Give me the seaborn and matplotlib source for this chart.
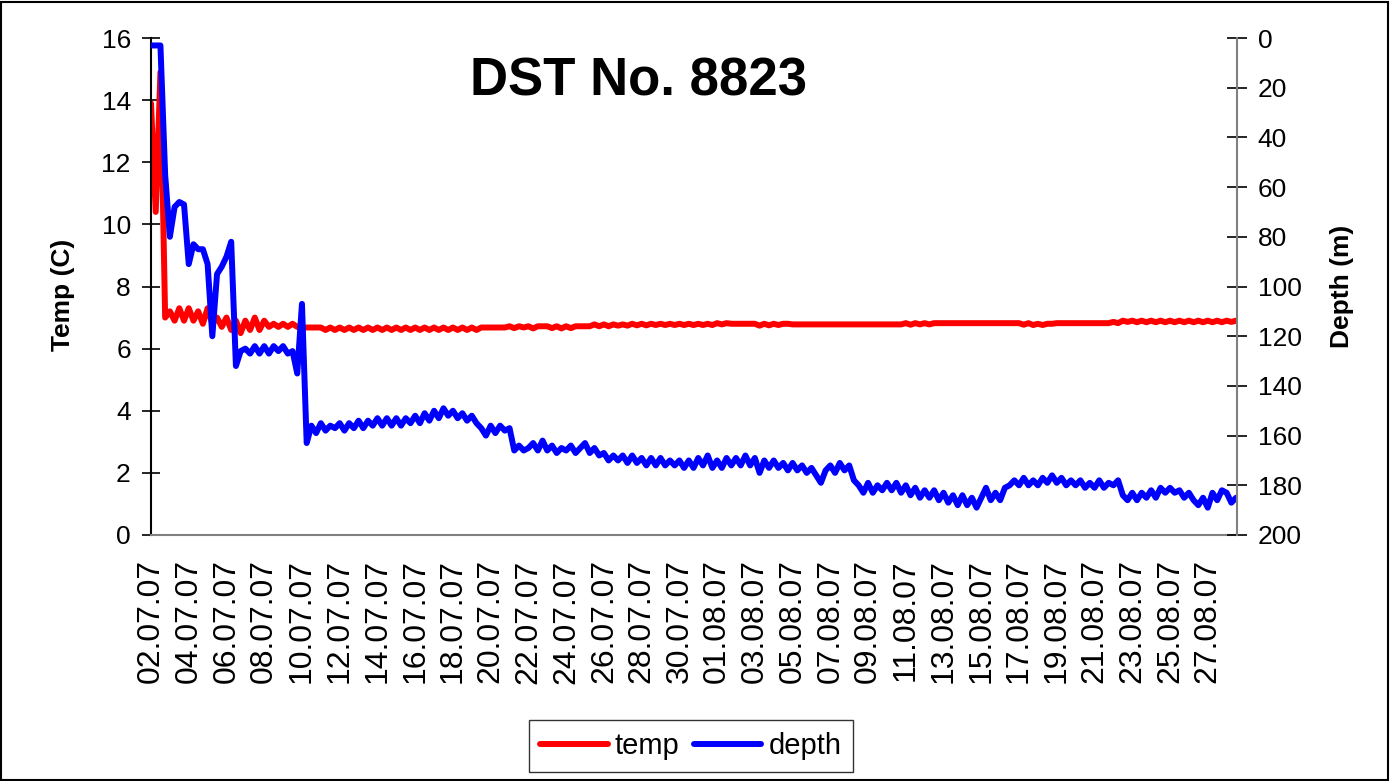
import pandas as pd
import matplotlib.pyplot as plt
from matplotlib.lines import Line2D
from matplotlib.patches import Rectangle
import seaborn as sns

# readings every 6 hours, starting 02.07.07 00:00
start_date = '2007-07-02'
step = '6h'

temp = [
    13.9, 10.4, 14.9, 7.0,   7.2, 6.9, 7.3, 6.9,   7.3, 6.9, 7.2, 6.8,   7.3, 6.8, 7.0, 6.7,
    7.0, 6.6, 6.9, 6.5,   6.9, 6.6, 7.0, 6.6,   6.9, 6.7, 6.8, 6.7,   6.8, 6.7, 6.8, 6.7,
    6.68, 6.68, 6.68, 6.68,   6.68, 6.6, 6.68, 6.6,   6.68, 6.6, 6.68, 6.6,   6.68, 6.6, 6.68, 6.6,
    6.68, 6.6, 6.68, 6.6,   6.68, 6.6, 6.68, 6.6,   6.68, 6.6, 6.68, 6.6,   6.68, 6.6, 6.68, 6.6,
    6.68, 6.6, 6.68, 6.6,   6.68, 6.6, 6.68, 6.68,   6.68, 6.68, 6.68, 6.68,   6.72, 6.66, 6.72, 6.68,
    6.72, 6.65, 6.72, 6.72,   6.72, 6.66, 6.72, 6.65,   6.72, 6.66, 6.72, 6.72,   6.72, 6.72, 6.78, 6.72,
    6.78, 6.72, 6.78, 6.74,   6.78, 6.74, 6.8, 6.75,   6.8, 6.75, 6.8, 6.76,   6.8, 6.76, 6.8, 6.76,
    6.8, 6.76, 6.8, 6.76,   6.8, 6.76, 6.8, 6.76,   6.82, 6.78, 6.82, 6.8,   6.8, 6.8, 6.8, 6.8,
    6.8, 6.74, 6.8, 6.75,   6.8, 6.76, 6.8, 6.8,   6.78, 6.78, 6.78, 6.78,   6.78, 6.78, 6.78, 6.78,
    6.78, 6.78, 6.78, 6.78,   6.78, 6.78, 6.78, 6.78,   6.78, 6.78, 6.78, 6.78,   6.78, 6.78, 6.78, 6.78,
    6.82, 6.77, 6.82, 6.78,   6.82, 6.78, 6.82, 6.82,   6.82, 6.82, 6.82, 6.82,   6.82, 6.82, 6.82, 6.82,
    6.82, 6.82, 6.82, 6.82,   6.82, 6.82, 6.82, 6.82,   6.82, 6.77, 6.82, 6.76,   6.8, 6.76, 6.8, 6.8,
    6.82, 6.82, 6.82, 6.82,   6.82, 6.82, 6.82, 6.82,   6.82, 6.82, 6.82, 6.82,   6.86, 6.82, 6.9, 6.86,
    6.9, 6.85, 6.9, 6.85,   6.9, 6.85, 6.9, 6.85,   6.9, 6.85, 6.9, 6.85,   6.9, 6.85, 6.9, 6.85,
    6.9, 6.85, 6.9, 6.85,   6.9, 6.86, 6.9,
]

depth = [
    3, 3, 3, 55,   80, 68, 66, 67,   91, 83, 85, 85,   91, 120, 95, 92,
    88, 82, 132, 126,   125, 127, 124, 127,   124, 127, 124, 126,   124, 127, 126, 135,
    107, 163, 156, 159,   155, 158, 156, 157,   155, 158, 155, 157,   154, 157, 154, 156,
    153, 156, 153, 156,   153, 156, 153, 155,   152, 155, 151, 154,   150, 153, 149, 152,
    150, 153, 151, 154,   152, 155, 157, 160,   156, 159, 156, 158,   157, 166, 164, 166,
    165, 163, 166, 162,   166, 164, 167, 165,   166, 164, 167, 165,   163, 167, 165, 168,
    167, 170, 168, 170,   168, 171, 168, 171,   169, 172, 169, 172,   169, 172, 170, 172,
    170, 173, 170, 173,   169, 172, 168, 173,   170, 173, 169, 172,   169, 172, 168, 172,
    169, 175, 170, 173,   170, 173, 171, 174,   171, 174, 172, 175,   173, 176, 179, 174,
    172, 175, 171, 174,   172, 178, 180, 183,   179, 183, 180, 182,   179, 182, 179, 183,
    180, 184, 181, 185,   182, 185, 182, 186,   183, 187, 184, 188,   184, 188, 185, 189,
    185, 181, 186, 183,   186, 181, 180, 178,   180, 177, 180, 178,   180, 177, 179, 176,
    179, 177, 180, 178,   180, 178, 181, 179,   181, 178, 181, 179,   180, 178, 184, 186,
    183, 186, 183, 185,   182, 185, 181, 183,   181, 183, 182, 185,   183, 186, 188, 185,
    189, 183, 186, 182,   183, 187, 185,
]

tick_dates = pd.date_range('2007-07-02', '2007-08-27', freq='2D')
temp_ticks = list(range(0, 17, 2))
depth_ticks = list(range(0, 201, 20))


def main():
    df = pd.DataFrame({
        'time': pd.date_range(start_date, periods=len(temp), freq=step),
        'temp': temp,
        'depth': depth,
    })

    sns.set_style('white')
    plt.rcParams['font.family'] = ['Liberation Sans', 'DejaVu Sans']
    plt.rcParams.update({'text.color': 'black', 'axes.labelcolor': 'black',
                         'xtick.color': 'black', 'ytick.color': 'black'})

    fig = plt.figure(figsize=(13.91, 7.81), dpi=100)
    ax = fig.add_axes([151 / 1391, 1 - 535 / 781, 1086 / 1391, 497 / 781])
    ax2 = ax.twinx()

    sns.lineplot(data=df, x='time', y='temp', ax=ax, color='#FF0000', linewidth=4.3,
                 legend=False, solid_joinstyle='round')
    sns.lineplot(data=df, x='time', y='depth', ax=ax2, color='#0000FF', linewidth=4.3,
                 legend=False, solid_joinstyle='round')

    t0 = pd.Timestamp(start_date)
    ax.set_xlim(t0, t0 + pd.Timedelta(days=57.55))
    ax.set_xticks(tick_dates)
    ax.set_xticklabels([d.strftime('%d.%m.%y') for d in tick_dates], rotation=90, fontsize=23)

    ax.set_ylim(0, 16)
    ax.set_yticks(temp_ticks)
    ax.set_yticklabels([str(v) for v in temp_ticks], fontsize=19)
    ax2.set_ylim(200, 0)
    ax2.set_yticks(depth_ticks)
    ax2.set_yticklabels([str(v) for v in depth_ticks], fontsize=19)

    ax.tick_params(axis='y', direction='inout', length=13, width=1.2, color='black', pad=8)
    ax.tick_params(axis='x', direction='inout', length=9, width=1.2, color='black', pad=13)
    ax2.tick_params(axis='y', direction='inout', length=14, width=1.2, color='black', pad=8)

    for s in ['top', 'right']:
        ax.spines[s].set_visible(False)
    for s in ['top', 'left', 'bottom']:
        ax2.spines[s].set_visible(False)
    ax.spines['left'].set_color('black')
    ax.spines['bottom'].set_color('#808080')
    ax2.spines['right'].set_color('#808080')
    for sp in [ax.spines['left'], ax.spines['bottom'], ax2.spines['right']]:
        sp.set_linewidth(1.5)

    ax.set_xlabel('')
    ax.set_ylabel('Temp (C)', fontsize=19, fontweight='bold')
    ax.yaxis.set_label_coords(-0.070, 0.484)
    ax2.set_ylabel('Depth (m)', fontsize=19, fontweight='bold')
    ax2.yaxis.set_label_coords(1.0856, 0.5)

    fig.text(639 / 1391, 1 - 82 / 781, 'DST No. 8823', ha='center', va='center',
             fontsize=38, fontweight='bold')

    handles = [Line2D([], [], color='#FF0000', lw=4.3), Line2D([], [], color='#0000FF', lw=4.3)]
    leg = fig.legend(handles, ['temp', 'depth'], loc='center', ncol=2,
                     bbox_to_anchor=(691 / 1391, 1 - 746 / 781), fontsize=21,
                     frameon=True, fancybox=False, edgecolor='black', handlelength=2.3,
                     handletextpad=0.25, columnspacing=0.5, borderpad=0.4)
    leg.get_frame().set_linewidth(1.0)

    fig.patches.append(Rectangle((0.001, 0.001), 0.997, 0.996, transform=fig.transFigure,
                                 fill=False, edgecolor='black', linewidth=1.5))

    fig.savefig('out.png', dpi=100)


if __name__ == '__main__':
    main()
